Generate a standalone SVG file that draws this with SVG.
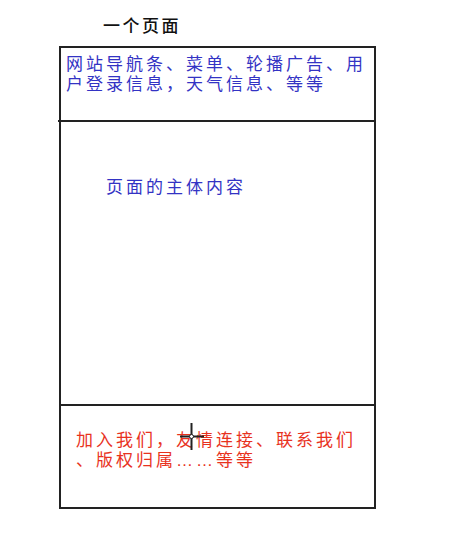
<svg xmlns="http://www.w3.org/2000/svg" width="474" height="552" viewBox="0 0 474 552">
<style>
.t{font-family:"Liberation Sans","Noto Sans CJK SC",sans-serif;font-size:17px;letter-spacing:3px}
.blue{fill:#3333c4}
.red{fill:#e8321e}
.ln{stroke:#222;stroke-width:2;fill:none}
</style>
<rect width="474" height="552" fill="#fff"/>
<g id="title"><text class="t" x="103" y="32" fill="#111" style="letter-spacing:2.5px;font-weight:500">一个页面</text></g>
<g id="page"><rect class="ln" x="60" y="47" width="315" height="461"/></g>
<g id="connectors">
<line class="ln" x1="58" y1="121" x2="374" y2="121"/>
<line class="ln" x1="60" y1="405" x2="376" y2="405"/>
</g>
<g id="header">
<text class="t blue" x="66" y="70">网站导航条、菜单、轮播广告、用</text>
<text class="t blue" x="66" y="90">户登录信息，天气信息、等等</text>
</g>
<g id="main"><text class="t blue" x="106" y="193">页面的主体内容</text></g>
<g id="footer">
<text class="t red" x="76" y="446">加入我们，友情连接、联系我们</text>
<text class="t red" x="76" y="466">、版权归属……等等</text>
</g>
<g id="cursor" stroke="#222" stroke-width="2" fill="none">
<line x1="191.5" y1="423" x2="191.5" y2="450"/>
<line x1="180" y1="436.5" x2="204" y2="436.5"/>
<circle cx="191.5" cy="436.5" r="2" fill="#fff" stroke-width="1"/>
</g>
</svg>
